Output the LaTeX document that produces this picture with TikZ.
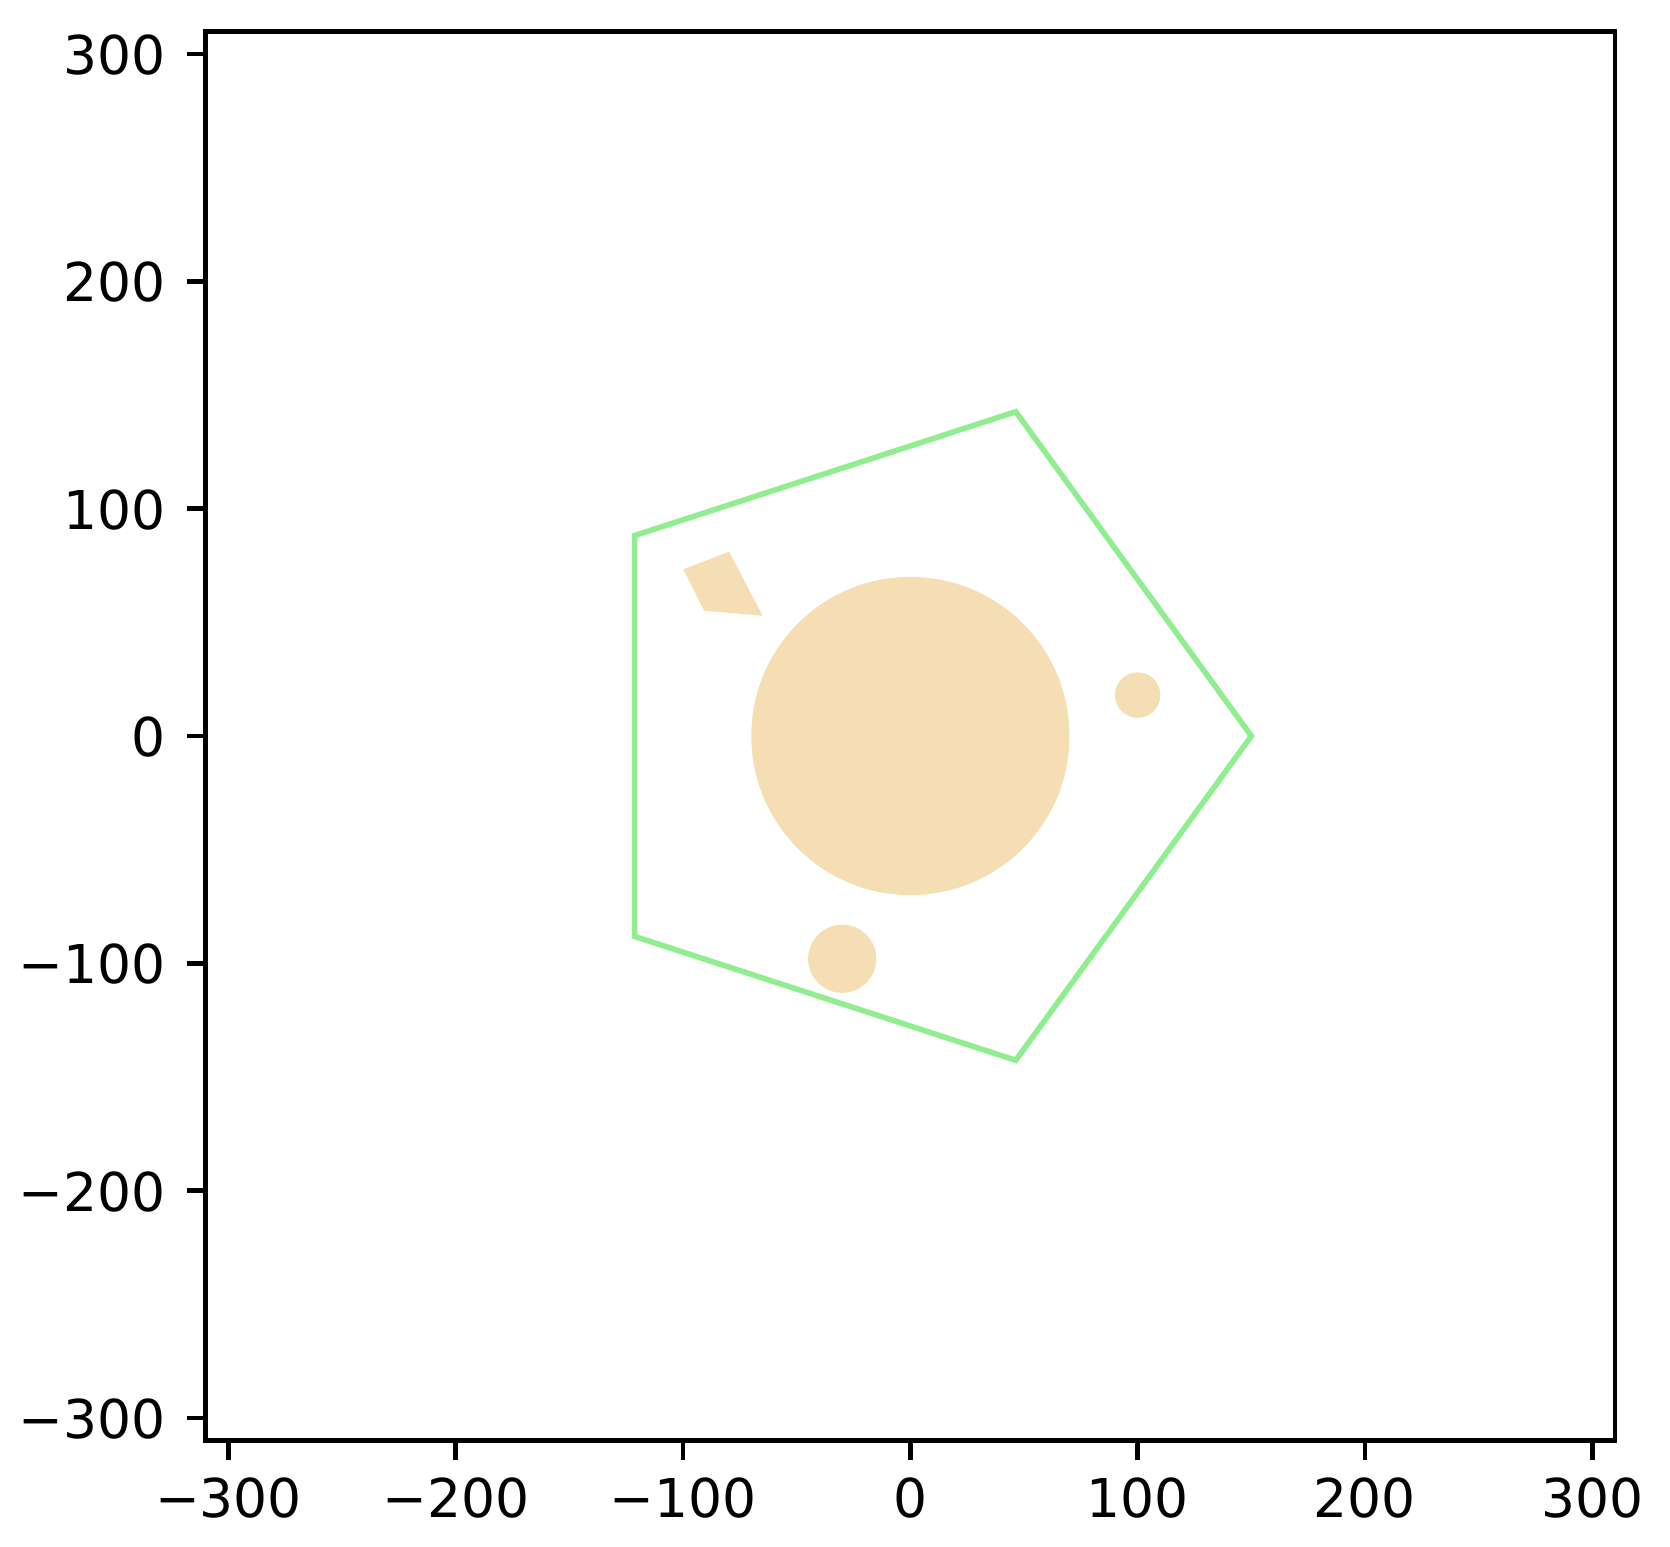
\documentclass[tikz,border=0pt]{standalone}
\usepackage{fontspec}
\setmainfont{DejaVu Sans}
\definecolor{wheatc}{HTML}{F5DEB3}
\definecolor{lgreen}{HTML}{90EE90}
\tikzset{
  patchfill/.style={fill=wheatc, draw=none},
  spine/.style={line width=4.6pt, line join=miter, black},
  tickmark/.style={line width=4.6pt, black},
  ticklab/.style={inner sep=0pt, font=\fontsize{53.5}{60}\selectfont},
}
\begin{document}
\begin{tikzpicture}[x=2.273pt,y=2.273pt]
\useasboundingbox (-400.53,-356.8) rectangle (334.19,323.8);
% shapes
\fill[patchfill] (0,0) circle (70);
\fill[patchfill] (100,18) circle (10);
\fill[patchfill] (-30,-98) circle (15);
\fill[patchfill] (-99.9,73.3) -- (-79.8,81.1) -- (-65.0,52.9) -- (-90.7,55.1) -- cycle;
\draw[lgreen, line width=5.56pt, line join=miter]
  (150,0) -- (46.35,142.66) -- (-121.35,88.17) -- (-121.35,-88.17) -- (46.35,-142.66) -- cycle;
% axes
\draw[spine] (-310,-310) rectangle (310,310);
\foreach \t/\lab in {-300/{−300},-200/{−200},-100/{−100},0/{0},100/{100},200/{200},300/{300}}{
  \draw[tickmark] (\t,-310) -- (\t,-318.4);
  \node[ticklab, anchor=base] (xl\t) at (\t,-344.0) {\lab};
  \draw[tickmark] (-310,\t) -- (-318.4,\t);
  \node[ticklab, anchor=base east] (yl\t) at (-327.6,\t-9.0) {\lab};
}
\end{tikzpicture}
\end{document}
